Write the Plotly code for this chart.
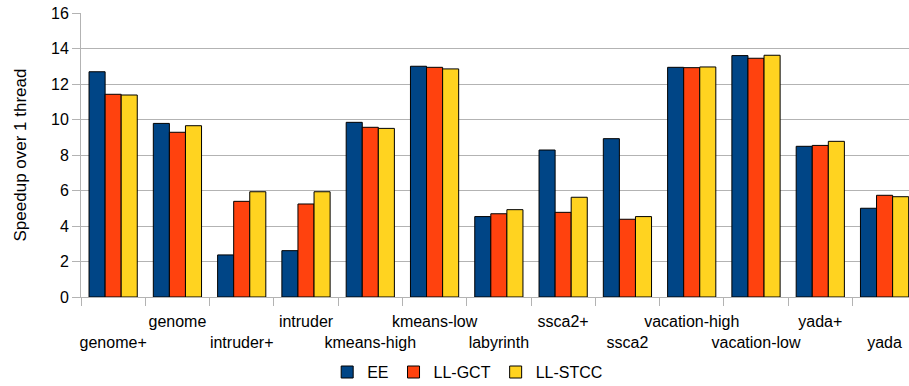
import plotly.graph_objects as go

categories = ["genome+", "genome", "intruder+", "intruder", "kmeans-high", "kmeans-low",
              "labyrinth", "ssca2+", "ssca2", "vacation-high", "vacation-low", "yada+", "yada"]
ee = [12.69, 9.78, 2.37, 2.61, 9.84, 13.00, 4.53, 8.28, 8.92, 12.94, 13.60, 8.49, 5.00]
ll_gct = [11.42, 9.28, 5.39, 5.24, 9.56, 12.94, 4.69, 4.77, 4.38, 12.92, 13.45, 8.54, 5.73]
ll_stcc = [11.38, 9.65, 5.93, 5.93, 9.50, 12.85, 4.92, 5.62, 4.53, 12.96, 13.62, 8.77, 5.65]
y_ticks = [0, 2, 4, 6, 8, 10, 12, 14, 16]

series = [("EE", ee, "#004586"), ("LL-GCT", ll_gct, "#ff420e"), ("LL-STCC", ll_stcc, "#ffd320")]

# staggered labels: even index on lower row, odd on upper row
tick_text = [(" <br>" + c) if i % 2 == 0 else (c + "<br> ") for i, c in enumerate(categories)]

FONT = "Liberation Sans, Arial, sans-serif"
GRID = "#b3b3b3"

fig = go.Figure()
for name, vals, color in series:
    fig.add_trace(go.Bar(
        name=name, x=categories, y=vals,
        marker=dict(color=color, line=dict(color="#000000", width=1)),
    ))

fig.update_layout(
    width=909, height=386,
    margin=dict(l=81, r=0, t=13, b=89),
    paper_bgcolor="white", plot_bgcolor="white",
    font=dict(family=FONT, size=16, color="#000000"),
    barmode="group", bargap=0.25, bargroupgap=0,
    showlegend=True,
    legend=dict(orientation="h", x=0.467, xanchor="center",
                yref="container", y=0.036, yanchor="middle",
                font=dict(size=16), itemwidth=30, traceorder="normal"),
)
fig.update_xaxes(
    type="category", range=[-0.5, 12.38],
    tickmode="array", tickvals=categories, ticktext=tick_text, tickangle=0,
    tickson="boundaries", ticks="outside", ticklen=8, tickcolor=GRID,
    showgrid=False, showline=True, linecolor=GRID, linewidth=1,
    tickfont=dict(size=16), ticklabelstandoff=10,
)
fig.update_yaxes(
    range=[0, 16], tickvals=y_ticks, ticks="outside", ticklen=8, tickcolor=GRID,
    showgrid=True, gridcolor=GRID, gridwidth=1, zeroline=False,
    showline=True, linecolor=GRID, linewidth=1,
    tickfont=dict(size=16),
    title=dict(text="Speedup over 1 thread", font=dict(size=17), standoff=20),
)

fig.write_html("out.html")
